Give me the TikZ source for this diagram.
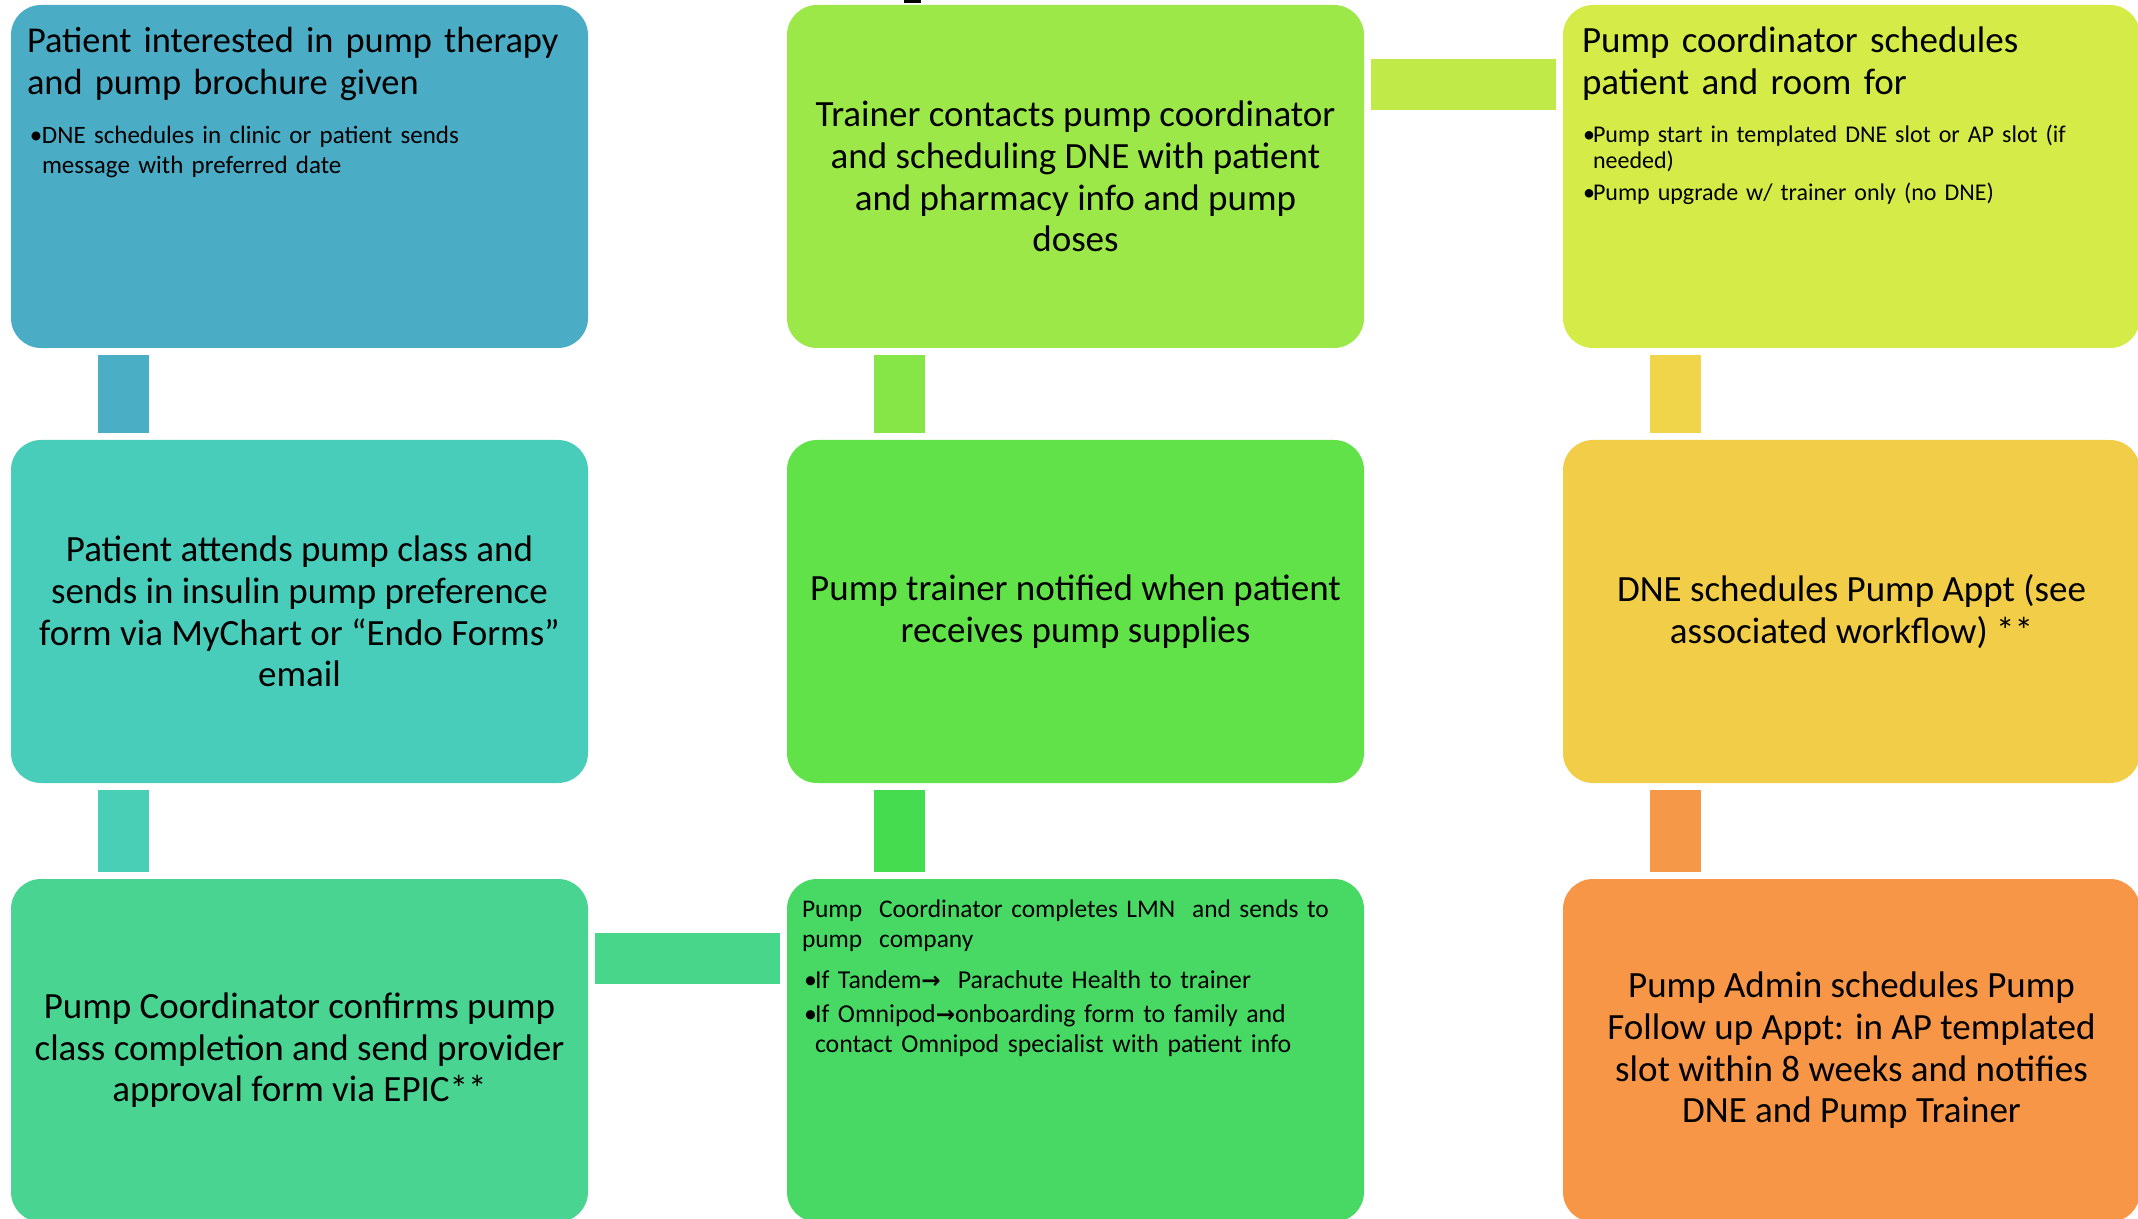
\documentclass[tikz,border=0pt]{standalone}
\usepackage{fontspec}
\setmainfont{Carlito}
\newfontfamily\djv{DejaVu Sans}
\usetikzlibrary{calc}
\definecolor{cA}{HTML}{4BACC6}
\definecolor{cAb}{HTML}{4AAEC5}
\definecolor{cB}{HTML}{49CDBB}
\definecolor{cBb}{HTML}{48CFB6}
\definecolor{cC}{HTML}{49D492}
\definecolor{cCb}{HTML}{48D68A}
\definecolor{cD}{HTML}{48D964}
\definecolor{cDb}{HTML}{46DC4F}
\definecolor{cE}{HTML}{61E248}
\definecolor{cEb}{HTML}{86E648}
\definecolor{cF}{HTML}{9CE848}
\definecolor{cFb}{HTML}{C0EA48}
\definecolor{cG}{HTML}{D5EB48}
\definecolor{cGb}{HTML}{F0D449}
\definecolor{cH}{HTML}{F2CD48}
\definecolor{cHb}{HTML}{F59949}
\definecolor{cI}{HTML}{F79646}
\newcommand\bigtxt{\fontsize{18.5}{20.8}\selectfont}
\newcommand\bpt[2]{\hangindent=#1\hangafter=1\noindent\makebox[#1][l]{\textbullet}#2\par}
\newcommand\rarr{{\djv\bfseries\fontsize{11.5}{15}\selectfont →}}
\tikzset{
  box/.style={rectangle, rounded corners=15pt, minimum width=288.5pt,
    minimum height=171.5pt, inner sep=0pt, align=center, font=\bigtxt, text=black},
  bar/.style={line width=25.5pt, shorten <=3.5pt, shorten >=3.5pt},
  lbl/.style={anchor=base west, inner sep=0pt, align=left, text width=290pt, text=black}
}
\begin{document}
\begin{tikzpicture}[x=0.5pt,y=-0.5pt]
\useasboundingbox (0,0) rectangle (2138,1219);
\clip (0,0) rectangle (2138,1219);
% boxes
\node[box, fill=cA] (b11) at (299.5,176.5) {};
\node[box, fill=cB] (b12) at (299.5,611.5) {Patient attends pump class and\\ sends in insulin pump preference\\ form via MyChart or “Endo Forms”\\ email};
\node[box, fill=cC] (b13) at (299.5,1050.5) {Pump Coordinator confirms pump\\ class completion and send provider\\ approval form via EPIC**};
\node[box, fill=cF] (b21) at (1075.5,176.5) {Trainer contacts pump coordinator\\ and scheduling DNE with patient\\ and pharmacy info and pump\\ doses};
\node[box, fill=cE] (b22) at (1075.5,611.5) {Pump trainer notified when patient\\ receives pump supplies};
\node[box, fill=cD] (b23) at (1075.5,1050.5) {};
\node[box, fill=cG] (b31) at (1851.5,176.5) {};
\node[box, fill=cH] (b32) at (1851.5,611.5) {DNE schedules Pump Appt (see\\ associated workflow) **};
\node[box, fill=cI] (b33) at (1851.5,1050.5) {Pump Admin schedules Pump\\ Follow up Appt: in AP templated\\ slot within 8 weeks and notifies\\ DNE and Pump Trainer};
% texts in top-left aligned boxes
\node[lbl, font=\fontsize{18.2}{20.8}\selectfont] (t11) at ($(b11.north west)+(16,48)$) {Patient interested in pump therapy\\ and pump brochure given};
\node[lbl, font=\fontsize{12.5}{15}\selectfont] (t11b) at ($(b11.north west)+(19,139)$)
  {\bpt{6pt}{DNE schedules in clinic or patient sends\newline message with preferred date}};
\node[lbl, font=\bigtxt] (t31) at ($(b31.north west)+(19,48)$) {Pump coordinator schedules\\ patient and room for};
\node[lbl, font=\fontsize{12}{13}\selectfont] (t31b) at ($(b31.north west)+(20,138)$)
  {\setlength\parskip{3pt}\bpt{5pt}{Pump start in templated DNE slot or AP slot (if\newline needed)}\bpt{5pt}{Pump upgrade w/ trainer only (no DNE)}};
\node[lbl, font=\fontsize{12.7}{15}\selectfont] (t23) at ($(b23.north west)+(15,39)$) {Pump\ \ Coordinator completes LMN\ \ and sends to\\ pump\ \ company};
\node[lbl, font=\fontsize{12.9}{15}\selectfont] (t23b) at ($(b23.north west)+(17,110)$)
  {\setlength\parskip{2pt}\bpt{5.5pt}{If Tandem\rarr\ \ Parachute Health to trainer}\bpt{5.5pt}{If Omnipod\rarr onboarding form to family and\newline contact Omnipod specialist with patient info}};
% connector bars
\draw[bar, draw=cAb] ($(b11.south west)+(113,0)$) -- ($(b12.north west)+(113,0)$);
\draw[bar, draw=cBb] ($(b12.south west)+(113,0)$) -- ($(b13.north west)+(113,0)$);
\draw[bar, draw=cCb] ($(b13.north east)+(0,80)$) -- ($(b23.north west)+(0,80)$);
\draw[bar, draw=cDb] ($(b23.north west)+(113,0)$) -- ($(b22.south west)+(113,0)$);
\draw[bar, draw=cEb] ($(b22.north west)+(113,0)$) -- ($(b21.south west)+(113,0)$);
\draw[bar, draw=cFb] ($(b21.north east)+(0,80)$) -- ($(b31.north west)+(0,80)$);
\draw[bar, draw=cGb] ($(b31.south west)+(113,0)$) -- ($(b32.north west)+(113,0)$);
\draw[bar, draw=cHb] ($(b32.south west)+(113,0)$) -- ($(b33.north west)+(113,0)$);
% small cut-off mark at top
\fill[black] (904,0) rectangle (921,3);
\end{tikzpicture}
\end{document}
